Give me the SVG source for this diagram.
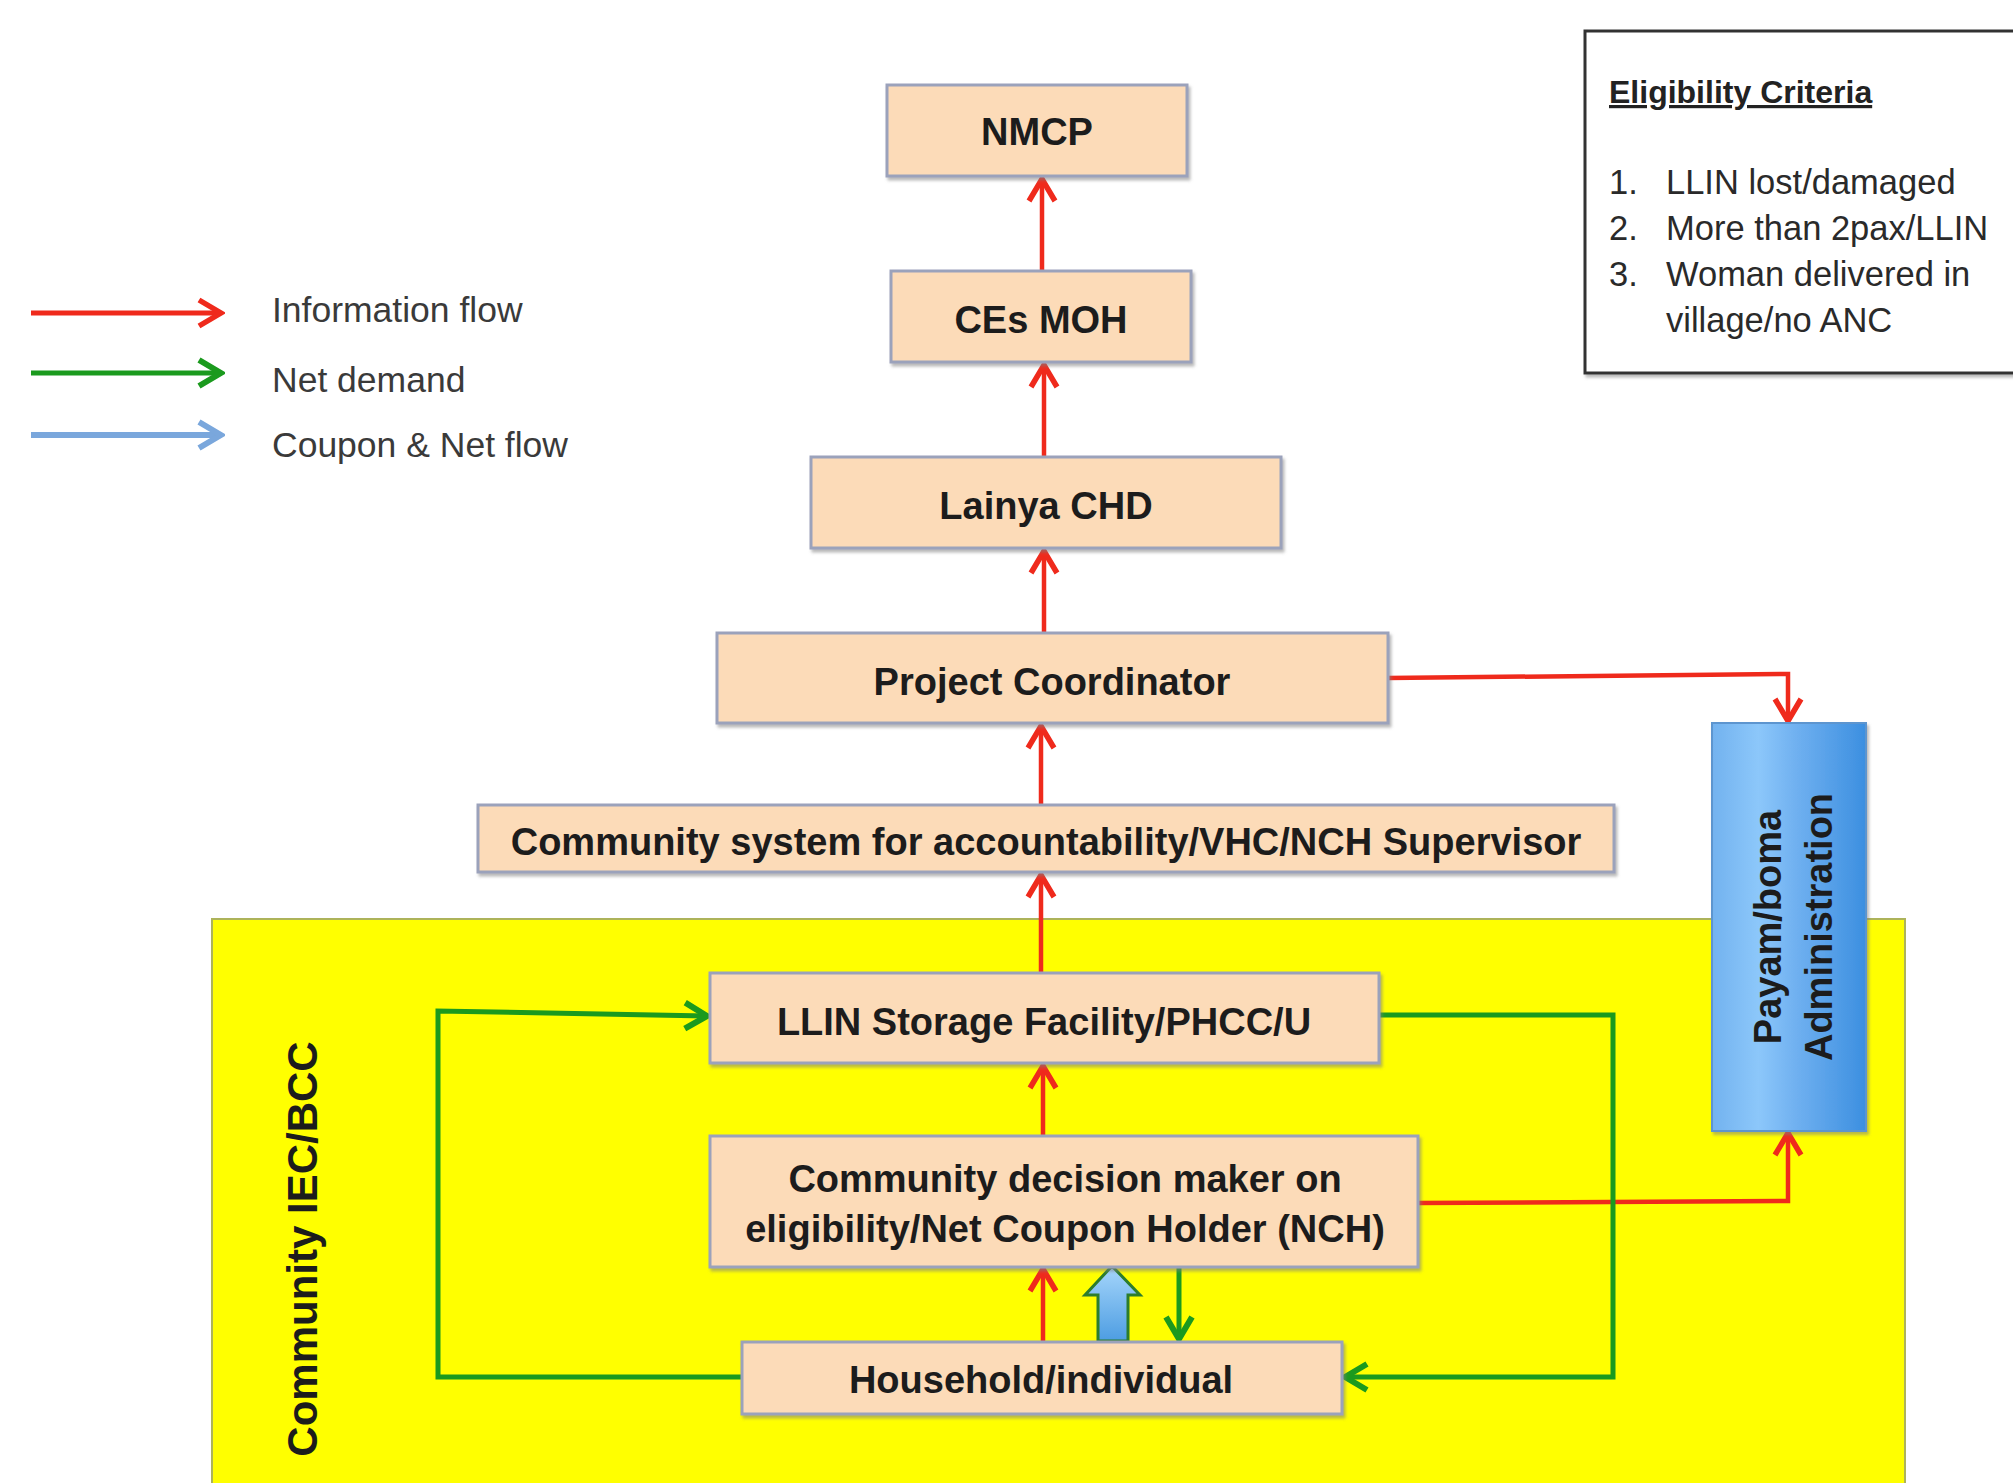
<svg xmlns="http://www.w3.org/2000/svg" width="2013" height="1483" viewBox="0 0 2013 1483">
<style>
.node rect.box{fill:#fcdbb8;stroke:#9ba2bb;stroke-width:3;filter:url(#sh)}
.lbl{font-family:"Liberation Sans",Arial,sans-serif;font-weight:bold;font-size:38px;fill:#1c1c1c;text-anchor:middle}
.leg{font-family:"Liberation Sans",Arial,sans-serif;font-size:35.5px;fill:#3a3a3a}
.crit{font-family:"Liberation Sans",Arial,sans-serif;font-size:34.5px;fill:#2a2a2a}
.red{fill:none;stroke:#ef2a1c;stroke-width:4.5;marker-end:url(#mr)}
.green{fill:none;stroke:#1b9a1e;stroke-width:5;marker-end:url(#mg)}
</style>
<defs>
<filter id="sh" x="-5%" y="-10%" width="110%" height="130%">
<feDropShadow dx="2" dy="3" stdDeviation="1.5" flood-color="#808080" flood-opacity="0.55"/>
</filter>
<marker id="mr" viewBox="-26 -16 30 32" refX="0" refY="0" markerWidth="30" markerHeight="32" markerUnits="userSpaceOnUse" orient="auto">
<path d="M-22,-13 L0,0 L-22,13" fill="none" stroke="#ef2a1c" stroke-width="5.5"/>
</marker>
<marker id="mg" viewBox="-26 -16 30 32" refX="0" refY="0" markerWidth="30" markerHeight="32" markerUnits="userSpaceOnUse" orient="auto">
<path d="M-22,-13 L0,0 L-22,13" fill="none" stroke="#1b9a1e" stroke-width="6"/>
</marker>
<marker id="mb" viewBox="-26 -16 30 32" refX="0" refY="0" markerWidth="30" markerHeight="32" markerUnits="userSpaceOnUse" orient="auto">
<path d="M-22,-13 L0,0 L-22,13" fill="none" stroke="#7aa7dc" stroke-width="6"/>
</marker>
<linearGradient id="gPay" x1="0" y1="0" x2="1" y2="0">
<stop offset="0" stop-color="#72b2ef"/>
<stop offset="0.3" stop-color="#8cc7fa"/>
<stop offset="0.55" stop-color="#6fb0f0"/>
<stop offset="1" stop-color="#3c8fe0"/>
</linearGradient>
<linearGradient id="gFat" x1="0" y1="0" x2="0" y2="1">
<stop offset="0" stop-color="#a6d6fb"/>
<stop offset="1" stop-color="#4d9de2"/>
</linearGradient>
</defs>

<rect x="0" y="0" width="2013" height="1483" fill="#ffffff"/>

<g id="community-region">
<rect x="212" y="919" width="1693" height="600" fill="#ffff00" stroke="#adb35a" stroke-width="2"/>
<text transform="translate(317,1249) rotate(-90)" font-family="'Liberation Sans',Arial,sans-serif" font-weight="bold" font-size="42" fill="#1c1c1c" text-anchor="middle">Community IEC/BCC</text>
</g>

<g id="legend">
<path d="M31,313 L221,313" fill="none" stroke="#ef2a1c" stroke-width="5" marker-end="url(#mr)"/>
<path d="M31,373 L221,373" fill="none" stroke="#1b9a1e" stroke-width="5" marker-end="url(#mg)"/>
<path d="M31,435 L221,435" fill="none" stroke="#7aa7dc" stroke-width="6" marker-end="url(#mb)"/>
<text class="leg" x="272" y="322">Information flow</text>
<text class="leg" x="272" y="392">Net demand</text>
<text class="leg" x="272" y="457">Coupon &amp; Net flow</text>
</g>

<g id="eligibility-criteria">
<rect x="1585" y="31" width="440" height="342" fill="#ffffff" stroke="#333333" stroke-width="3" filter="url(#sh)"/>
<text x="1609" y="103" font-family="'Liberation Sans',Arial,sans-serif" font-weight="bold" font-size="32" fill="#222" text-decoration="underline">Eligibility Criteria</text>
<text class="crit" x="1609" y="194">1.</text>
<text class="crit" x="1666" y="194">LLIN lost/damaged</text>
<text class="crit" x="1609" y="240">2.</text>
<text class="crit" x="1666" y="240">More than 2pax/LLIN</text>
<text class="crit" x="1609" y="286">3.</text>
<text class="crit" x="1666" y="286">Woman delivered in</text>
<text class="crit" x="1666" y="332">village/no ANC</text>
</g>

<g id="connectors">
<path class="red" d="M1042,271 L1042,179"/>
<path class="red" d="M1044,457 L1044,365"/>
<path class="red" d="M1044,633 L1044,551"/>
<path class="red" d="M1041,805 L1041,726"/>
<path class="red" d="M1041,973 L1041,875"/>
<path class="red" d="M1043,1136 L1043,1066"/>
<path class="red" d="M1043,1342 L1043,1269"/>
<path class="red" d="M1388,678 L1788,674 L1788,721"/>
<path class="red" d="M1418,1203 L1788,1201 L1788,1133"/>
<path class="green" d="M742,1377 L438,1377 L438,1011 L707,1016"/>
<path class="green" d="M1379,1015 L1613,1015 L1613,1377 L1345,1377"/>
<path class="green" d="M1179,1267 L1179,1339"/>
<polygon points="1112,1266 1140,1295 1128,1295 1128,1341 1098,1341 1098,1295 1085,1295" fill="url(#gFat)" stroke="#2c7d2c" stroke-width="3" stroke-linejoin="miter"/>
</g>

<g id="nmcp" class="node">
<rect class="box" x="887" y="85" width="300" height="91"/>
<text class="lbl" x="1037" y="145">NMCP</text>
</g>
<g id="ces-moh" class="node">
<rect class="box" x="891" y="271" width="300" height="91"/>
<text class="lbl" x="1041" y="333">CEs MOH</text>
</g>
<g id="lainya-chd" class="node">
<rect class="box" x="811" y="457" width="470" height="91"/>
<text class="lbl" x="1046" y="519">Lainya CHD</text>
</g>
<g id="project-coordinator" class="node">
<rect class="box" x="717" y="633" width="671" height="90"/>
<text class="lbl" x="1052" y="695">Project Coordinator</text>
</g>
<g id="community-system" class="node">
<rect class="box" x="478" y="805" width="1136" height="67"/>
<text class="lbl" x="1046" y="855">Community system for accountability/VHC/NCH Supervisor</text>
</g>
<g id="llin-storage" class="node">
<rect class="box" x="710" y="973" width="669" height="90"/>
<text class="lbl" x="1044" y="1035">LLIN Storage Facility/PHCC/U</text>
</g>
<g id="community-decision-maker" class="node">
<rect class="box" x="710" y="1136" width="708" height="131"/>
<text class="lbl" x="1065" y="1192">Community decision maker on</text>
<text class="lbl" x="1065" y="1242">eligibility/Net Coupon Holder (NCH)</text>
</g>
<g id="household" class="node">
<rect class="box" x="742" y="1342" width="600" height="72"/>
<text class="lbl" x="1041" y="1393">Household/individual</text>
</g>
<g id="payam-boma">
<rect x="1712" y="723" width="154" height="408" fill="url(#gPay)" stroke="#5d95cf" stroke-width="2" filter="url(#sh)"/>
<text class="lbl" transform="translate(1781,927) rotate(-90)" x="0" y="0">Payam/boma</text>
<text class="lbl" transform="translate(1832,927) rotate(-90)" x="0" y="0">Administration</text>
</g>
</svg>
